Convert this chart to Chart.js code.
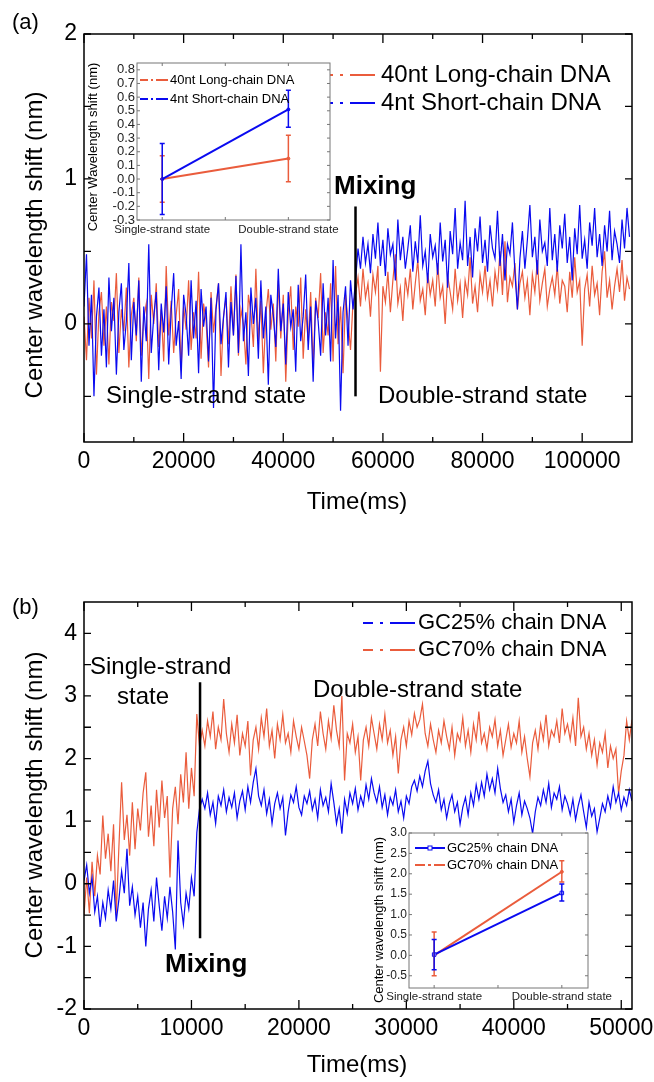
<!DOCTYPE html>
<html>
<head>
<meta charset="utf-8">
<script src="https://cdn.jsdelivr.net/npm/chart.js@4.4.1/dist/chart.umd.min.js"></script>
<style>
  html, body { margin: 0; padding: 0; background: #fff; }
  #page { position: relative; width: 654px; height: 1082px; overflow: hidden; background: #fff; }
  canvas { position: absolute; }
</style>
</head>
<body>
<div id="page">
  <canvas id="chartA" width="654" height="540" style="left:0;top:0"></canvas>
  <canvas id="insetA" width="262" height="186" style="left:80px;top:56px"></canvas>
  <canvas id="chartB" width="654" height="522" style="left:0;top:560px"></canvas>
  <canvas id="insetB" width="264" height="182" style="left:360px;top:826px"></canvas>
</div>
<script>
// --- Colours / fonts ---
const RED = '#EA5C3C';
const BLUE = '#0A0AF0';
const FONT = "'Liberation Sans', Arial, Helvetica, sans-serif";
Chart.defaults.font.family = FONT;
Chart.defaults.color = '#000';

// --- Panel (a): 40nt vs 4nt, sampled every 500 ms ---
const SAMPLE_MS_A = 500;
const LONG_40NT_SINGLE = [
  0.05, -0.25, 0.18, -0.10, 0.30, -0.35, 0.08, 0.22, -0.15, 0.12,
  -0.28, 0.15, 0.02, 0.35, -0.20, 0.10, -0.05, 0.25, -0.30, 0.06,
  0.18, -0.12, 0.32, -0.22, 0.04, 0.14, -0.38, 0.20, 0.00, 0.28,
  -0.16, 0.10, -0.26, 0.40, -0.08, 0.16, -0.20, 0.06, 0.24, -0.32,
  0.12, -0.04, 0.30, -0.18, 0.08, -0.10, 0.36, -0.24, 0.14, 0.02,
  -0.30, 0.22, -0.06, 0.12, 0.28, -0.36, 0.05, 0.18, -0.14, 0.26,
  -0.08, 0.34, -0.22, 0.10, 0.00, -0.28, 0.20, 0.08, -0.16, 0.38,
  -0.12, 0.16, -0.34, 0.06, 0.24, -0.04, 0.14, -0.26, 0.30, -0.10,
  0.20, -0.40, 0.08, 0.26, -0.18, 0.12, -0.02, 0.32, -0.24, 0.10,
  -0.12, 0.22, -0.30, 0.18, 0.04, 0.35, -0.20, 0.08, -0.08, 0.28,
  -0.26, 0.40, -0.14, 0.12, -0.34, 0.20, 0.02, -0.18, 0.15
];
const LONG_40NT_DOUBLE = [
  0.20, 0.32, 0.12, 0.38, 0.18, 0.28, 0.05, 0.34, 0.22, 0.40,
  -0.33, 0.26, 0.15, 0.36, 0.08, 0.30, 0.48, 0.14, 0.25, 0.02,
  0.32, 0.20, 0.38, 0.10, 0.28, 0.44, 0.16, 0.24, 0.06, 0.35,
  0.20, 0.30, 0.12, 0.42, 0.18, 0.26, 0.00, 0.33, 0.22, 0.10,
  0.38, 0.16, 0.28, 0.04, 0.30, 0.20, 0.46, 0.14, 0.26, 0.08,
  0.34, 0.22, 0.40, 0.18, 0.30, 0.12, 0.36, 0.24, 0.50, 0.20,
  0.57, 0.15, 0.32, 0.26, 0.42, 0.10, 0.28, 0.36, 0.18, 0.30,
  0.06, 0.34, 0.22, 0.44, 0.16, 0.28, 0.38, 0.12, 0.24, 0.32,
  0.20, 0.40, 0.14, 0.30, 0.26, 0.08, 0.36, 0.18, 0.46, 0.22,
  0.30, -0.15, 0.24, 0.34, 0.12, 0.40, 0.20, 0.28, 0.06, 0.36,
  0.50, 0.18, 0.30, 0.10, 0.26, 0.38, 0.22, 0.44, 0.16, 0.32,
  0.24
];
const SHORT_4NT_SINGLE = [
  0.12, 0.48, -0.15, 0.20, -0.50, 0.05, 0.25, -0.22, 0.10, -0.30,
  0.32, -0.05, 0.18, -0.35, 0.08, 0.28, -0.18, 0.02, 0.42, -0.25,
  0.15, -0.08, 0.30, -0.40, 0.12, -0.12, 0.55, -0.20, 0.05, 0.22,
  -0.32, 0.14, -0.06, 0.26, -0.28, 0.09, 0.35, -0.15, 0.02, -0.38,
  0.20, 0.06, -0.22, 0.30, -0.10, 0.16, -0.34, 0.24, -0.02, 0.12,
  -0.26, 0.18, -0.58, 0.10, 0.28, -0.14, 0.04, 0.22, -0.30, 0.15,
  -0.08, 0.33, -0.20, 0.55, -0.12, 0.08, -0.36, 0.25, 0.00, 0.18,
  -0.24, 0.30, -0.10, 0.12, -0.42, 0.20, 0.06, -0.16, 0.38, -0.05,
  0.14, -0.28, 0.22, -0.02, 0.10, -0.33, 0.27, -0.12, 0.05, 0.34,
  -0.18, 0.12, -0.40, 0.16, 0.02, -0.22, 0.28, -0.08, 0.18, -0.26,
  0.44, -0.10, 0.20, -0.60, 0.08, 0.26, -0.15, 0.30, 0.10
];
const SHORT_4NT_DOUBLE = [
  0.30, 0.52, 0.38, 0.60, 0.42, 0.55, 0.35, 0.62, 0.45, 0.70,
  0.40, 0.58, 0.33, 0.66, 0.48, 0.55, 0.30, 0.72, 0.44, 0.60,
  0.38, 0.52, 0.68, 0.36, 0.57, 0.42, 0.75, 0.40, 0.50, 0.28,
  0.62, 0.46, 0.54, 0.34, 0.70, 0.43, 0.58, 0.25, 0.64, 0.48,
  0.80, 0.38, 0.56, 0.44, 0.85, 0.40, 0.60, 0.32, 0.66, 0.50,
  0.74, 0.42, 0.58, 0.36, 0.68, 0.52, 0.45, 0.78, 0.40, 0.62,
  0.30, 0.55, 0.48, 0.70, 0.35, 0.10, 0.45, 0.64, 0.38, 0.58,
  0.82, 0.46, 0.60, 0.34, 0.72, 0.50, 0.56, 0.40, 0.80, 0.44,
  0.62, 0.36, 0.68, 0.52, 0.76, 0.42, 0.60, 0.30, 0.66, 0.48,
  0.82, 0.45, 0.58, 0.38, 0.70, 0.54, 0.80, 0.46, 0.62, 0.40,
  0.68, 0.50, 0.78, 0.44, 0.64, 0.55, 0.42, 0.72, 0.52, 0.80,
  0.60
];
const LONG_40NT = LONG_40NT_SINGLE.concat(LONG_40NT_DOUBLE);
const SHORT_4NT = SHORT_4NT_SINGLE.concat(SHORT_4NT_DOUBLE);
const MIX_TIME_A = 54500;
const MIX_SPAN_A = [-0.5, 0.81];
const X_TICKS_A = [0, 20000, 40000, 60000, 80000, 100000];
const X_MINOR_A = [10000, 30000, 50000, 70000, 90000];
const Y_TICKS_A = [0, 1, 2];
const Y_MINOR_A = [-0.5, 0.5, 1.5];

// --- Panel (b): GC25% vs GC70%, sampled every 250 ms ---
const SAMPLE_MS_B = 250;
const GC25_SINGLE = [
  0.05, 0.30, -0.15, 0.10, -0.45, -0.20, -0.69, -0.30, -0.55, -0.10,
  -0.40, 0.05, -0.60, -0.25, 0.20, -0.15, 0.56, -0.35, -0.05, -0.50,
  -0.20, -0.70, -0.30, -1.00, -0.40, -0.10, -0.60, 0.10, -0.35, -0.75,
  -0.20, -0.55, -0.05, -0.45, -1.05, 0.69, -0.30, -0.65, -0.15, -0.40,
  0.10, -0.20, 0.82, 1.20
];
const GC25_DOUBLE = [
  1.35, 1.20, 1.45, 1.10, 1.30, 0.96, 1.40, 1.25, 1.50, 1.15,
  1.38, 1.22, 1.45, 1.05, 1.32, 1.48, 1.18, 1.55, 1.30, 1.62,
  1.84, 1.40, 1.25, 1.50, 1.12, 1.35, 0.96, 1.28, 1.45, 1.20,
  1.38, 0.77, 1.15, 1.42, 1.30, 1.55, 1.22, 1.10, 1.40, 1.28,
  1.48, 1.18, 1.35, 1.05, 1.50, 1.25, 1.38, 1.15, 1.60, 1.30,
  0.96, 1.20, 0.80, 1.35, 1.12, 1.45, 1.28, 1.52, 1.18, 1.40,
  1.25, 1.58, 1.35, 1.68, 1.45, 1.30, 1.55, 1.22, 1.42, 1.10,
  1.38, 1.26, 1.50, 1.15, 1.32, 1.05, 1.40, 1.28, 1.55, 1.65,
  1.48, 1.72, 1.55, 1.80, 1.96, 1.60, 1.42, 1.30, 1.50, 1.18,
  1.35, 1.05, 1.28, 1.42, 1.15, 1.30, 0.95, 1.22, 1.38, 1.10,
  1.45, 1.25, 1.58, 1.35, 1.62, 1.40, 1.75, 1.50, 1.68, 1.45,
  1.84, 1.52, 1.30, 1.42, 1.15, 1.35, 0.98, 1.25, 1.45, 1.10,
  1.32, 1.20, 1.05, 0.80, 1.15, 1.38, 1.25, 1.50, 1.30, 1.60,
  1.22, 1.45, 1.35, 1.55, 1.18, 1.40, 1.28, 1.10, 1.35, 1.02,
  1.25, 1.42, 1.15, 0.90, 1.30, 1.08, 1.20, 0.83, 1.05, 1.28,
  1.15, 1.40, 1.22, 1.55, 1.30, 1.45, 1.18, 1.38, 1.25, 1.50,
  1.32
];
const GC70_SINGLE = [
  -0.50, 0.10, -0.47, 0.35, -0.20, 0.45, 0.15, 1.09, 0.40, 0.80,
  0.20, 0.95, -0.50, 0.60, 1.62, 0.70, 1.10, 0.45, 1.30, 0.55,
  1.20, 0.85, 1.45, 1.78, 0.75, 1.25, 0.60, 1.50, 0.90, 1.65,
  1.05, 1.40, 0.10, 1.20, 1.55, 0.95, 1.75, 1.30, 2.10, 1.20,
  1.85, 1.40, 2.71, 2.20
];
const GC70_DOUBLE = [
  2.45, 2.20, 2.60, 2.35, 2.75, 2.15, 2.50, 2.30, 2.95, 2.40,
  2.10, 2.55, 2.25, 2.70, 2.05, 2.40, 2.20, 2.60, 1.73, 2.30,
  2.50, 2.15, 2.65, 2.35, 2.80, 2.20, 2.45, 2.00, 2.55, 2.30,
  2.70, 2.25, 2.40, 2.10, 2.60, 2.35, 2.15, 2.50, 2.28, 2.05,
  1.68, 2.30, 2.55, 2.20, 2.75, 2.40, 2.15, 2.60, 2.32, 2.85,
  2.45, 2.20, 3.00, 1.65, 2.40, 2.25, 2.55, 2.10, 2.35, 1.65,
  2.30, 2.50, 2.20, 2.65, 2.40, 2.15, 2.55, 2.30, 2.70, 2.25,
  2.45, 2.05, 2.35, 1.76, 2.30, 2.50, 2.20, 2.60, 2.38, 2.72,
  2.50, 2.62, 2.87, 2.40, 2.20, 2.55, 2.30, 2.10, 2.45, 2.25,
  2.60, 2.35, 2.15, 2.50, 2.05, 2.40, 2.28, 2.65, 2.20, 2.45,
  2.10, 2.55, 2.30, 2.75, 2.25, 2.40, 2.15, 2.50, 2.35, 2.62,
  2.20, 2.45, 2.05, 2.30, 2.55, 2.18, 2.40, 2.25, 2.60, 2.10,
  2.35, 2.00, 1.71, 2.25, 2.45, 2.15, 2.55, 2.30, 2.70, 2.20,
  2.45, 2.35, 2.60, 2.25, 2.80, 2.40, 2.55, 2.30, 2.65, 2.20,
  2.97, 2.35, 2.50, 2.15, 2.40, 2.05, 2.30, 1.90, 2.25, 2.10,
  2.40, 1.85, 2.20, 2.00, 2.15, 1.44, 1.80, 2.05, 2.60, 2.30,
  2.62
];
const GC25 = GC25_SINGLE.concat(GC25_DOUBLE);
const GC70 = GC70_SINGLE.concat(GC70_DOUBLE);
const MIX_TIME_B = 10800;
const MIX_SPAN_B = [-0.87, 3.22];
const X_TICKS_B = [0, 10000, 20000, 30000, 40000, 50000];
const X_MINOR_B = [5000, 15000, 25000, 35000, 45000];
const Y_TICKS_B = [-2, -1, 0, 1, 2, 3, 4];
const Y_MINOR_B = [-1.5, -0.5, 0.5, 1.5, 2.5, 3.5];

// --- Insets: mean shift with error bars ---
const INSET_STATES = ['Single-strand state', 'Double-strand state'];
const INSET_POS = [1, 3];
const INSET_X_TICKS = [1, 2, 3];

const INSET_A_LONG = [0.0, 0.15];
const INSET_A_LONG_HI = [0.17, 0.32];
const INSET_A_LONG_LO = [-0.17, -0.02];
const INSET_A_SHORT = [0.0, 0.51];
const INSET_A_SHORT_HI = [0.26, 0.65];
const INSET_A_SHORT_LO = [-0.26, 0.38];
const INSET_A_YTICKS = [-0.3, -0.2, -0.1, 0.0, 0.1, 0.2, 0.3, 0.4, 0.5, 0.6, 0.7, 0.8];

const INSET_B_GC25 = [0.02, 1.53];
const INSET_B_GC25_HI = [0.39, 1.75];
const INSET_B_GC25_LO = [-0.35, 1.33];
const INSET_B_GC70 = [0.0, 2.05];
const INSET_B_GC70_HI = [0.57, 2.32];
const INSET_B_GC70_LO = [-0.5, 1.8];
const INSET_B_YTICKS = [-0.5, 0.0, 0.5, 1.0, 1.5, 2.0, 2.5, 3.0];

// --- Helpers ---
const toPoints = (vals, step) => vals.map((v, i) => ({ x: i * step, y: v }));

function text(ctx, str, x, y, font, align, rot) {
    ctx.save();
    ctx.font = font;
    ctx.fillStyle = '#000';
    ctx.textAlign = align || 'left';
    ctx.textBaseline = 'middle';
    ctx.translate(x, y);
    if (rot) ctx.rotate(rot);
    ctx.fillText(str, 0, 0);
    ctx.restore();
}

function sample(ctx, x0, x1, y, color, dash, lw) {
    ctx.save();
    ctx.strokeStyle = color;
    ctx.lineWidth = lw;
    ctx.setLineDash(dash);
    ctx.beginPath();
    ctx.moveTo(x0, y);
    ctx.lineTo(x1, y);
    ctx.stroke();
    ctx.restore();
}

function mixLine(chart, t, span) {
    const { ctx, scales: { x, y } } = chart;
    const px = x.getPixelForValue(t);
    ctx.save();
    ctx.strokeStyle = '#000';
    ctx.lineWidth = 2.5;
    ctx.beginPath();
    ctx.moveTo(px, y.getPixelForValue(span[0]));
    ctx.lineTo(px, y.getPixelForValue(span[1]));
    ctx.stroke();
    ctx.restore();
}

// fixed axis box sizes, no label overhang padding
const fixHeight = h => s => { s.height = h; s.paddingLeft = 0; s.paddingRight = 0; };
const fixWidth = w => s => { s.width = w; s.paddingTop = 0; s.paddingBottom = 0; };

// box + inward ticks on all four sides
function framePlugin(f) {
    return {
        id: 'frame',
        beforeDraw(chart) {
            if (!f.fill) return;
            const a = chart.chartArea;
            chart.ctx.save();
            chart.ctx.fillStyle = '#fff';
            chart.ctx.fillRect(a.left, a.top, a.width, a.height);
            chart.ctx.restore();
        },
        afterDraw(chart) {
            const { ctx, chartArea: a, scales: { x, y } } = chart;
            ctx.save();
            ctx.strokeStyle = f.color;
            ctx.lineWidth = f.tickWidth;
            ctx.beginPath();
            const xt = (list, len) => list.forEach(v => {
                const px = x.getPixelForValue(v);
                ctx.moveTo(px, a.bottom); ctx.lineTo(px, a.bottom - len);
                ctx.moveTo(px, a.top); ctx.lineTo(px, a.top + len);
            });
            const yt = (list, len) => list.forEach(v => {
                const py = y.getPixelForValue(v);
                ctx.moveTo(a.left, py); ctx.lineTo(a.left + len, py);
                ctx.moveTo(a.right, py); ctx.lineTo(a.right - len, py);
            });
            xt(f.xMajor, f.xLen);
            xt(f.xMinor, f.xMinorLen);
            yt(f.yMajor, f.yLen);
            yt(f.yMinor, f.yLen);
            ctx.stroke();
            ctx.lineWidth = f.lineWidth;
            ctx.strokeRect(a.left, a.top, a.width, a.height);
            ctx.restore();
        }
    };
}

function mainChart(id, cfg) {
    return new Chart(document.getElementById(id), {
        type: 'line',
        data: {
            datasets: cfg.series.map(s => ({
                data: s.points,
                borderColor: s.color,
                borderWidth: 1.2,
                pointRadius: 0,
                tension: 0,
                fill: false
            }))
        },
        options: {
            responsive: false,
            animation: false,
            events: [],
            layout: { padding: cfg.padding },
            plugins: { legend: { display: false }, tooltip: { enabled: false } },
            scales: {
                x: {
                    type: 'linear',
                    min: cfg.xRange[0],
                    max: cfg.xRange[1],
                    grid: { display: false, drawTicks: false },
                    border: { display: false },
                    ticks: { font: { size: 23 }, padding: 6, maxRotation: 0, autoSkip: false, callback: v => String(v) },
                    afterBuildTicks: s => { s.ticks = cfg.xTicks.map(v => ({ value: v })); },
                    afterFit: fixHeight(cfg.xHeight)
                },
                y: {
                    type: 'linear',
                    min: cfg.yRange[0],
                    max: cfg.yRange[1],
                    grid: { display: false, drawTicks: false },
                    border: { display: false },
                    ticks: { font: { size: 23 }, padding: 7, autoSkip: false, callback: v => String(v) },
                    afterBuildTicks: s => { s.ticks = cfg.yTicks.map(v => ({ value: v })); },
                    afterFit: fixWidth(84)
                }
            }
        },
        plugins: [framePlugin({
            color: '#000', lineWidth: 1.5, tickWidth: 1.3,
            xMajor: cfg.xTicks, xMinor: cfg.xMinor, yMajor: cfg.yTicks, yMinor: cfg.yMinor,
            xLen: 9, xMinorLen: 5, yLen: 7
        }), { id: 'decor', afterDraw: cfg.decor }]
    });
}

function insetChart(id, cfg) {
    return new Chart(document.getElementById(id), {
        type: 'line',
        data: {
            datasets: cfg.series.map(s => ({
                data: INSET_POS.map((p, i) => ({ x: p, y: s.mean[i] })),
                borderColor: s.color,
                borderWidth: 2,
                pointStyle: s.marker,
                pointRadius: s.marker === 'rect' ? 2.5 : 1.5,
                pointBackgroundColor: s.marker === 'rect' ? '#fff' : s.color,
                pointBorderColor: s.color,
                pointBorderWidth: 1,
                tension: 0,
                fill: false
            }))
        },
        options: {
            responsive: false,
            animation: false,
            events: [],
            layout: { padding: cfg.padding },
            plugins: { legend: { display: false }, tooltip: { enabled: false } },
            scales: {
                x: {
                    type: 'linear',
                    min: cfg.xRange[0],
                    max: cfg.xRange[1],
                    grid: { display: false, drawTicks: false },
                    border: { display: false },
                    ticks: {
                        font: { size: 11.5 }, color: '#222', padding: cfg.xPad, maxRotation: 0, autoSkip: false,
                        callback: v => { const i = INSET_POS.indexOf(v); return i >= 0 ? INSET_STATES[i] : ''; }
                    },
                    afterBuildTicks: s => { s.ticks = INSET_X_TICKS.map(v => ({ value: v })); },
                    afterFit: fixHeight(cfg.xHeight)
                },
                y: {
                    type: 'linear',
                    min: cfg.yRange[0],
                    max: cfg.yRange[1],
                    grid: { display: false, drawTicks: false },
                    border: { display: false },
                    ticks: { font: { size: cfg.yFont }, color: '#222', padding: 2, autoSkip: false, callback: v => v.toFixed(1) },
                    afterBuildTicks: s => { s.ticks = cfg.yTicks.map(v => ({ value: v })); },
                    afterFit: fixWidth(cfg.yWidth)
                }
            }
        },
        plugins: [framePlugin({
            fill: true, color: '#777', lineWidth: 1, tickWidth: 1,
            xMajor: INSET_X_TICKS, xMinor: [], yMajor: cfg.yTicks, yMinor: [],
            xLen: 3, xMinorLen: 0, yLen: 3
        }), {
            id: 'errorbars',
            afterDatasetsDraw(chart) {
                const { ctx, scales: { x, y } } = chart;
                ctx.save();
                ctx.lineWidth = 1.5;
                cfg.series.slice().reverse().forEach(s => {
                    ctx.strokeStyle = s.color;
                    ctx.beginPath();
                    INSET_POS.forEach((p, i) => {
                        const px = x.getPixelForValue(p);
                        const hi = y.getPixelForValue(s.hi[i]);
                        const lo = y.getPixelForValue(s.lo[i]);
                        ctx.moveTo(px, hi); ctx.lineTo(px, lo);
                        ctx.moveTo(px - 2.5, hi); ctx.lineTo(px + 2.5, hi);
                        ctx.moveTo(px - 2.5, lo); ctx.lineTo(px + 2.5, lo);
                    });
                    ctx.stroke();
                });
                ctx.restore();
            }
        }, { id: 'decor', afterDraw: cfg.decor }]
    });
}

// --- Panel (a) ---
mainChart('chartA', {
    series: [
        { points: toPoints(SHORT_4NT, SAMPLE_MS_A), color: BLUE },
        { points: toPoints(LONG_40NT, SAMPLE_MS_A), color: RED }
    ],
    padding: { left: 0, top: 34, right: 22, bottom: 0 },
    xRange: [0, 110000], yRange: [-0.815, 2.0],
    xTicks: X_TICKS_A, xMinor: X_MINOR_A, yTicks: Y_TICKS_A, yMinor: Y_MINOR_A,
    xHeight: 98,
    decor(chart) {
        const ctx = chart.ctx;
        mixLine(chart, MIX_TIME_A, MIX_SPAN_A);
        text(ctx, '(a)', 12, 23, `22px ${FONT}`);
        text(ctx, 'Center wavelength shift (nm)', 35, 245, `24px ${FONT}`, 'center', -Math.PI / 2);
        text(ctx, 'Time(ms)', 357, 502, `24px ${FONT}`, 'center');
        text(ctx, 'Mixing', 334, 187, `bold 26px ${FONT}`);
        text(ctx, 'Single-strand state', 106, 396, `24px ${FONT}`);
        text(ctx, 'Double-strand state', 378, 396, `24px ${FONT}`);
        sample(ctx, 318, 375, 75, RED, [15, 7, 3, 7, 40], 2);
        text(ctx, '40nt Long-chain DNA', 381, 75, `24px ${FONT}`);
        sample(ctx, 318, 375, 103, BLUE, [15, 7, 3, 7, 40], 2);
        text(ctx, '4nt Short-chain DNA', 381, 103, `24px ${FONT}`);
    }
});

insetChart('insetA', {
    series: [
        { mean: INSET_A_SHORT, hi: INSET_A_SHORT_HI, lo: INSET_A_SHORT_LO, color: BLUE, marker: 'circle' },
        { mean: INSET_A_LONG, hi: INSET_A_LONG_HI, lo: INSET_A_LONG_LO, color: RED, marker: 'circle' }
    ],
    padding: { left: 0, top: 7, right: 12, bottom: 0 },
    xRange: [0.6, 3.66], yRange: [-0.3, 0.85],
    yTicks: INSET_A_YTICKS, yWidth: 57, yFont: 13,
    xHeight: 22, xPad: 3,
    decor(chart) {
        const ctx = chart.ctx;
        text(ctx, 'Center Wavelength shift (nm)', 13, 91, `13px ${FONT}`, 'center', -Math.PI / 2);
        sample(ctx, 60, 88, 24, RED, [8, 3, 2, 3, 20], 2);
        text(ctx, '40nt Long-chain DNA', 90, 24, `13px ${FONT}`);
        sample(ctx, 60, 88, 43, BLUE, [8, 3, 2, 3, 20], 2);
        text(ctx, '4nt Short-chain DNA', 90, 43, `13px ${FONT}`);
    }
});

// --- Panel (b) ---
mainChart('chartB', {
    series: [
        { points: toPoints(GC25, SAMPLE_MS_B), color: BLUE },
        { points: toPoints(GC70, SAMPLE_MS_B), color: RED }
    ],
    padding: { left: 0, top: 42, right: 22, bottom: 0 },
    xRange: [0, 51000], yRange: [-2, 4.5],
    xTicks: X_TICKS_B, xMinor: X_MINOR_B, yTicks: Y_TICKS_B, yMinor: Y_MINOR_B,
    xHeight: 73,
    decor(chart) {
        const ctx = chart.ctx;
        mixLine(chart, MIX_TIME_B, MIX_SPAN_B);
        text(ctx, '(b)', 12, 48, `22px ${FONT}`);
        text(ctx, 'Center wavelength shift (nm)', 35, 245, `24px ${FONT}`, 'center', -Math.PI / 2);
        text(ctx, 'Time(ms)', 357, 505, `24px ${FONT}`, 'center');
        text(ctx, 'Mixing', 165, 405, `bold 26px ${FONT}`);
        text(ctx, 'Single-strand', 90, 107, `24px ${FONT}`);
        text(ctx, 'state', 143, 137, `24px ${FONT}`, 'center');
        text(ctx, 'Double-strand state', 313, 130, `24px ${FONT}`);
        sample(ctx, 363, 415, 63, BLUE, [10, 7, 3, 7, 40], 2);
        text(ctx, 'GC25% chain DNA', 418, 63, `22px ${FONT}`);
        sample(ctx, 363, 415, 90, RED, [10, 7, 3, 7, 40], 2);
        text(ctx, 'GC70% chain DNA', 418, 90, `22px ${FONT}`);
    }
});

insetChart('insetB', {
    series: [
        { mean: INSET_B_GC25, hi: INSET_B_GC25_HI, lo: INSET_B_GC25_LO, color: BLUE, marker: 'rect' },
        { mean: INSET_B_GC70, hi: INSET_B_GC70_HI, lo: INSET_B_GC70_LO, color: RED, marker: 'circle' }
    ],
    padding: { left: 0, top: 7, right: 36, bottom: 0 },
    xRange: [0.606, 3.41], yRange: [-0.8, 3.0],
    yTicks: INSET_B_YTICKS, yWidth: 49, yFont: 12,
    xHeight: 20, xPad: 2,
    decor(chart) {
        const ctx = chart.ctx;
        text(ctx, 'Center wavelength shift (nm)', 19, 94, `13px ${FONT}`, 'center', -Math.PI / 2);
        sample(ctx, 55, 85, 22, BLUE, [], 2);
        ctx.save();
        ctx.fillStyle = '#fff';
        ctx.strokeStyle = BLUE;
        ctx.lineWidth = 1;
        ctx.fillRect(68, 20, 4, 4);
        ctx.strokeRect(68, 20, 4, 4);
        ctx.restore();
        text(ctx, 'GC25% chain DNA', 87, 22, `13px ${FONT}`);
        sample(ctx, 55, 85, 39, RED, [10, 3, 3, 3, 20], 2);
        text(ctx, 'GC70% chain DNA', 87, 39, `13px ${FONT}`);
    }
});
</script>
</body>
</html>
